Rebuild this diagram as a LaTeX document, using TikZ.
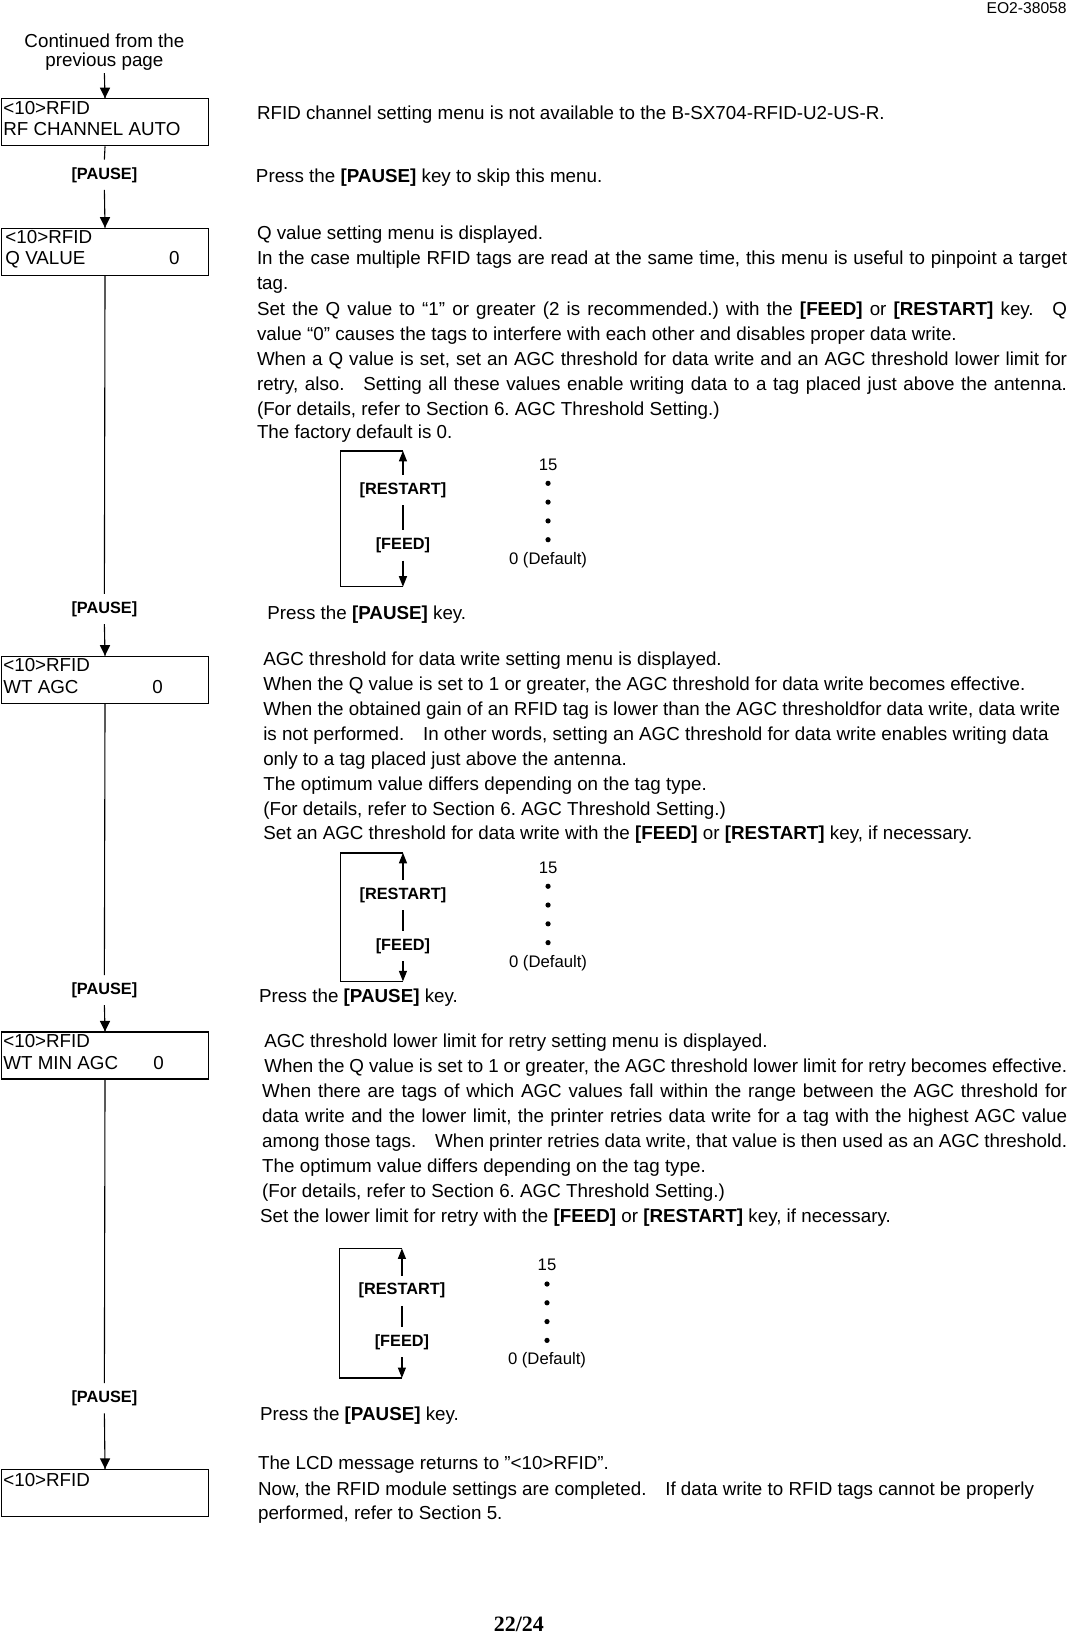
\documentclass[tikz,border=0pt]{standalone}
\usepackage{fontspec}
\setmainfont{Liberation Sans}
\newfontfamily\pagefont{Liberation Serif}
\usetikzlibrary{arrows.meta}
\frenchspacing
\tikzset{
  txt/.style={inner sep=0pt, anchor=base west, font=\fontsize{18}{22}\selectfont},
  ctxt/.style={inner sep=0pt, anchor=base, font=\fontsize{18}{22}\selectfont},
  lab/.style={inner xsep=0pt, inner ysep=7pt, anchor=base, font=\bfseries\fontsize{15.6}{18}\selectfont},
  num/.style={inner sep=0pt, anchor=base, font=\fontsize{16}{18}\selectfont},
  lcd/.style={draw, line width=1.2pt, minimum width=198pt, minimum height=45pt, inner sep=0pt},
  conn/.style={line width=1.05pt},
  bracketline/.style={line width=1.05pt},
  topline/.style={line width=1.7pt},
}
% arrowheads with the tip at #2
\newcommand\tipdown[2][5]{\fill (#2) -- ++(-#1,-10) -- ++(2*#1,0) -- cycle;}
\newcommand\tipup[2][5]{\fill (#2) -- ++(-#1,10) -- ++(2*#1,0) -- cycle;}
% key diagram: #1 name, #2 x left, #3 x arrow, #4 top y, #5 bottom y, #6 RESTART y, #7 FEED y, #8 y of "15"
\newcommand\keydia[8]{%
  \coordinate (#1tl) at (#2,#4);
  \coordinate (#1tr) at (#3,#4);
  \coordinate (#1bl) at (#2,#5);
  \coordinate (#1br) at (#3,#5);
  \node[lab] (#1r) at (#3,#6+5.5) {[RESTART]};
  \node[lab] (#1f) at (#3,#7+5.5) {[FEED]};
  \draw[line width=1.3pt] (#1r.north) -- ([yshift=-9pt]#1tr);
  \tipup[4]{#1tr}
  \draw[line width=1.3pt] (#1r.south) -- (#1f.north);
  \draw[line width=1.3pt] (#1f.south) -- ([yshift=9pt]#1br);
  \tipdown[4]{#1br}
  \draw[topline] (#1tr) -- (#1tl);
  \draw[bracketline] (#1tl) -- (#1bl) -- (#1br);
  \node[num] (#1n) at (#3+139,#8+5.5) {15};
  \fill (#3+139,#8+18) circle (2.5pt);
  \fill (#3+139,#8+36) circle (2.5pt);
  \fill (#3+139,#8+54) circle (2.5pt);
  \fill (#3+139,#8+72) circle (2.5pt);
  \node[num] (#1d) at (#3+139,#8+90+5.5) {0 (Default)};
}
\begin{document}
\begin{tikzpicture}[x=1pt,y=-1pt]
\useasboundingbox (0,0) rectangle (1024,1567.2);
\fill[white] (0,0) rectangle (1024,1567.2);

% header
\node[inner sep=0pt, anchor=base east, font=\fontsize{15}{17}\selectfont] (hdr) at (1022,8+5) {EO2-38058};
\node[ctxt] (c1) at (100,40+5.5) {Continued from the};
\node[ctxt] (c2) at (100,58+5.5) {previous page};
\coordinate (c0) at (100,70);

% boxes
\node[lcd, anchor=north west] (b1) at (1,94) {};
\node[lcd, anchor=north west] (b2) at (1,218) {};
\node[lcd, anchor=north west] (b3) at (1,628) {};
\node[lcd, anchor=north west] (b4) at (1,988) {};
\node[lcd, anchor=north west] (b5) at (1,1407) {};

% box texts
\node[txt] (b1a) at (3,104+5.5) {<10>RFID};
\node[txt] (b1b) at (3,124+5.5) {RF CHANNEL AUTO};
\node[txt] (b2a) at (5,228+5.5) {<10>RFID};
\node[txt] (b2b) at (5,248+5.5) {Q VALUE};
\node[ctxt] (b2c) at (167,248+5.5) {0};
\node[txt] (b3a) at (3,638+5.5) {<10>RFID};
\node[txt] (b3b) at (3,659+5.5) {WT AGC};
\node[ctxt] (b3c) at (151,659+5.5) {0};
\node[txt] (b4a) at (3,998+5.5) {<10>RFID};
\node[txt] (b4b) at (3,1019+5.5) {WT MIN AGC};
\node[ctxt] (b4c) at (152,1019+5.5) {0};
\node[txt] (b5a) at (3,1418+5.5) {<10>RFID};

% pause labels
\node[lab] (p1) at (100,166+5.5) {[PAUSE]};
\node[lab] (p2) at (100,582+5.5) {[PAUSE]};
\node[lab] (p3) at (100,947+5.5) {[PAUSE]};
\node[lab] (p4) at (100,1338+5.5) {[PAUSE]};

% connectors
\draw[conn] (c0) -- (b1.north);
\tipdown{b1.north}
\draw[conn] (b1.south) -- (p1.north);
\draw[conn] (p1.south) -- (b2.north);
\tipdown{b2.north}
\draw[conn] (b2.south) -- (p2.north);
\draw[conn] (p2.south) -- (b3.north);
\tipdown{b3.north}
\draw[conn] (b3.south) -- (p3.north);
\draw[conn] (p3.south) -- (b4.north);
\tipdown{b4.north}
\draw[conn] (b4.south) -- (p4.north);
\draw[conn] (p4.south) -- (b5.north);
\tipdown{b5.north}

% section 1
\node[txt] (t1) at (246,109+5.5) {RFID channel setting menu is not available to the B-SX704-RFID-U2-US-R.};
\node[txt] (t2) at (245,169+5.5) {Press the \textbf{[PAUSE]} key to skip this menu.};

% Q value block
\node[txt] (q1) at (246,224+5.5) {Q value setting menu is displayed.};
\node[txt] (q2) at (246,248+5.5) {\makebox[776pt][s]{In the case multiple RFID tags are read at the same time, this menu is useful to pinpoint a target}};
\node[txt] (q3) at (246,272+5.5) {tag.};
\node[txt] (q4) at (246,297+5.5) {\makebox[776pt][s]{Set the Q value to “1” or greater (2 is recommended.) with the \textbf{[FEED]} or \textbf{[RESTART]} key.\hspace{18pt}Q}};
\node[txt] (q5) at (246,321+5.5) {value “0” causes the tags to interfere with each other and disables proper data write.};
\node[txt] (q6) at (246,345+5.5) {\makebox[776pt][s]{When a Q value is set, set an AGC threshold for data write and an AGC threshold lower limit for}};
\node[txt] (q7) at (246,369+5.5) {\makebox[776pt][s]{retry, also.\hspace{18pt}Setting all these values enable writing data to a tag placed just above the antenna.}};
\node[txt] (q8) at (246,393+5.5) {(For details, refer to Section 6. AGC Threshold Setting.)};
\node[txt] (q9) at (246,415+5.5) {The factory default is 0.};
\keydia{d1}{326}{386}{432}{562}{468}{521}{445}
\node[txt] (q10) at (256,588+5.5) {Press the \textbf{[PAUSE]} key.};

% WT AGC block
\node[txt] (a1) at (252,632+5.5) {AGC threshold for data write setting menu is displayed.};
\node[txt] (a2) at (252,656+5.5) {When the Q value is set to 1 or greater, the AGC threshold for data write becomes effective.};
\node[txt] (a3) at (252,680+5.5) {When the obtained gain of an RFID tag is lower than the AGC thresholdfor data write, data write};
\node[txt] (a4) at (252,704+5.5) {is not performed.\hspace{18pt}In other words, setting an AGC threshold for data write enables writing data};
\node[txt] (a5) at (252,728+5.5) {only to a tag placed just above the antenna.};
\node[txt] (a6) at (252,752+5.5) {The optimum value differs depending on the tag type.};
\node[txt] (a7) at (252,776+5.5) {(For details, refer to Section 6. AGC Threshold Setting.)};
\node[txt] (a8) at (252,799+5.5) {Set an AGC threshold for data write with the \textbf{[FEED]} or \textbf{[RESTART]} key, if necessary.};
\keydia{d2}{326}{386}{817}{940}{856}{905}{831}
\node[txt] (a9) at (248,955+5.5) {Press the \textbf{[PAUSE]} key.};

% WT MIN AGC block
\node[txt] (m1) at (253,998+5.5) {AGC threshold lower limit for retry setting menu is displayed.};
\node[txt] (m2) at (253,1022+5.5) {\makebox[769pt][s]{When the Q value is set to 1 or greater, the AGC threshold lower limit for retry becomes effective.}};
\node[txt] (m3) at (251,1046+5.5) {\makebox[771pt][s]{When there are tags of which AGC values fall within the range between the AGC threshold for}};
\node[txt] (m4) at (251,1070+5.5) {\makebox[771pt][s]{data write and the lower limit, the printer retries data write for a tag with the highest AGC value}};
\node[txt] (m5) at (251,1094+5.5) {\makebox[771pt][s]{among those tags.\hspace{18pt}When printer retries data write, that value is then used as an AGC threshold.}};
\node[txt] (m6) at (251,1118+5.5) {The optimum value differs depending on the tag type.};
\node[txt] (m7) at (251,1142+5.5) {(For details, refer to Section 6. AGC Threshold Setting.)};
\node[txt] (m8) at (249,1166+5.5) {Set the lower limit for retry with the \textbf{[FEED]} or \textbf{[RESTART]} key, if necessary.};
\keydia{d3}{325}{385}{1196}{1320}{1235}{1284}{1212}
\node[txt] (m9) at (249,1355+5.5) {Press the \textbf{[PAUSE]} key.};

% final block
\node[txt] (e1) at (247,1402+5.5) {The LCD message returns to ”<10>RFID”.};
\node[txt] (e2) at (247,1427+5.5) {Now, the RFID module settings are completed.\hspace{18pt}If data write to RFID tags cannot be properly};
\node[txt] (e3) at (247,1450+5.5) {performed, refer to Section 5.};

% page number
\node[inner sep=0pt, anchor=base, font=\pagefont\bfseries\fontsize{21}{24}\selectfont] (pg) at (497,1563) {22/24};
\end{tikzpicture}
\end{document}
